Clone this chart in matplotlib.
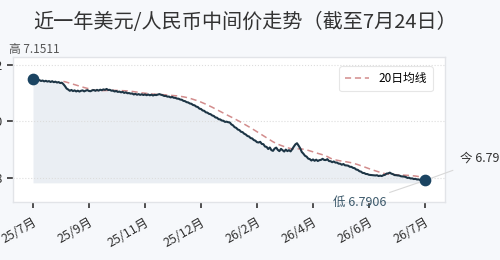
import matplotlib
matplotlib.use("Agg")
import matplotlib.pyplot as plt
import numpy as np
import pandas as pd

plt.rcParams['font.family'] = ['Noto Sans CJK SC', 'DejaVu Sans']

title = "近一年美元/人民币中间价走势（截至7月24日）"
tick_labels = ["25/7月", "25/9月", "25/11月", "25/12月", "26/2月", "26/4月", "26/6月", "26/7月"]
tick_index = [0, 35, 70, 105, 140, 175, 210, 245]
ma_label = "20日均线"
ma_window = 20

rates = [
    7.1511, 7.1470, 7.1462, 7.1440, 7.1465, 7.1432, 7.1450, 7.1418, 7.1440, 7.1412,
    7.1430, 7.1398, 7.1425, 7.1390, 7.1410, 7.1378, 7.1395, 7.1360, 7.1372, 7.1320,
    7.1250, 7.1165, 7.1130, 7.1085, 7.1115, 7.1075, 7.1100, 7.1062, 7.1090, 7.1058,
    7.1085, 7.1100, 7.1065, 7.1092, 7.1110, 7.1078, 7.1070, 7.1102, 7.1112, 7.1085,
    7.1118, 7.1090, 7.1125, 7.1105, 7.1135, 7.1118, 7.1150, 7.1112, 7.1120, 7.1088,
    7.1092, 7.1060, 7.1080, 7.1045, 7.1058, 7.1030, 7.1048, 7.1010, 7.1032, 7.0998,
    7.1005, 7.0985, 7.0990, 7.0955, 7.0978, 7.0945, 7.0968, 7.0940, 7.0962, 7.0935,
    7.0958, 7.0928, 7.0955, 7.0925, 7.0948, 7.0918, 7.0942, 7.0932, 7.0952, 7.0968,
    7.0945, 7.0930, 7.0902, 7.0905, 7.0878, 7.0880, 7.0850, 7.0868, 7.0838, 7.0835,
    7.0808, 7.0805, 7.0775, 7.0768, 7.0728, 7.0718, 7.0682, 7.0672, 7.0635, 7.0625,
    7.0582, 7.0570, 7.0525, 7.0510, 7.0452, 7.0440, 7.0388, 7.0375, 7.0322, 7.0310,
    7.0268, 7.0255, 7.0210, 7.0192, 7.0140, 7.0130, 7.0078, 7.0070, 7.0030, 7.0022,
    6.9982, 6.9990, 6.9970, 6.9962, 6.9892, 6.9860, 6.9795, 6.9770, 6.9712, 6.9692,
    6.9632, 6.9618, 6.9562, 6.9535, 6.9482, 6.9465, 6.9408, 6.9395, 6.9338, 6.9315,
    6.9262, 6.9252, 6.9275, 6.9200, 6.9192, 6.9108, 6.9095, 6.9020, 6.9075, 6.8980,
    6.8955, 6.9035, 6.9070, 6.8990, 6.8945, 6.9025, 6.8975, 6.8930, 6.9000, 6.8945,
    6.8980, 6.8935, 6.9015, 6.9105, 6.9185, 6.9225, 6.9140, 6.9045, 6.8915, 6.8855,
    6.8780, 6.8750, 6.8680, 6.8662, 6.8612, 6.8650, 6.8602, 6.8642, 6.8595, 6.8625,
    6.8635, 6.8672, 6.8632, 6.8628, 6.8660, 6.8592, 6.8588, 6.8552, 6.8578, 6.8538,
    6.8540, 6.8502, 6.8498, 6.8462, 6.8488, 6.8442, 6.8438, 6.8428, 6.8390, 6.8388,
    6.8352, 6.8340, 6.8292, 6.8280, 6.8232, 6.8218, 6.8172, 6.8168, 6.8135, 6.8132,
    6.8105, 6.8100, 6.8092, 6.8088, 6.8082, 6.8090, 6.8062, 6.8075, 6.8062, 6.8092,
    6.8105, 6.8148, 6.8155, 6.8182, 6.8145, 6.8128, 6.8095, 6.8092, 6.8082, 6.8078,
    6.8052, 6.8048, 6.8042, 6.8028, 6.7995, 6.8002, 6.7975, 6.7978, 6.7955, 6.7962,
    6.7940, 6.7942, 6.7920, 6.7925, 6.7908, 6.7906,
]
high_value = 7.1511
low_value = 6.7906
today_value = 6.7906
fill_base = 6.782

x = np.arange(len(rates))
y = np.array(rates)
ma = pd.Series(y).rolling(ma_window).mean()

bg = '#f6f8fb'
fig = plt.figure(figsize=(5, 2.6), dpi=100, facecolor=bg)
ax = fig.add_axes([0.026, 0.223, 0.864, 0.558])
ax.set_facecolor('white')

ax.fill_between(x, y, fill_base, color='#e8edf2', alpha=0.9, lw=0)
ax.plot(x, y, color='#1d3545', lw=1.5, zorder=3)
ax.plot(x, ma, color='#d28c8c', lw=1.1, ls=(0, (4, 2.5)), label=ma_label, zorder=2)
ax.scatter([x[0], x[-1]], [y[0], y[-1]], s=55, color='#1b4462', zorder=4)

ax.set_xlim(-12.5, 257.5)
ax.set_ylim(6.714, 7.2286)
ax.set_yticks([6.8, 7.0, 7.2])
ax.set_yticklabels(["6.8", "7.0", "7.2"])
ax.set_xticks(tick_index)
ax.set_xticklabels(tick_labels, rotation=30, ha='right', rotation_mode='anchor', fontsize=9, color='#333333')
ax.tick_params(axis='y', labelsize=9, colors='#333333', length=4, width=1.2)
ax.tick_params(axis='x', length=4, width=1.2, colors='#333333', pad=6)
ax.grid(axis='y', color='#dddddd', ls=':', lw=0.8)
for s in ax.spines.values():
    s.set_color('#e2e4e8')
    s.set_linewidth(1.0)

ax.annotate(f"高 {high_value:.4f}", xy=(x[0], y[0]), xytext=(-17, 21), textcoords='offset points',
            fontsize=8.5, color='#555555', ha='left', va='center', annotation_clip=False)
ax.annotate(f"低 {low_value:.4f}", xy=(x[-1], low_value), xytext=(-47, -16), textcoords='offset points',
            fontsize=9, color='#3d5a6c', ha='center', va='center', annotation_clip=False,
            arrowprops=dict(arrowstyle='-', color='#d8d8d8', lw=0.8, shrinkA=2, shrinkB=0))
ax.annotate(f"今 {today_value:.4f}", xy=(x[-1], today_value), xytext=(25, 16), textcoords='offset points',
            fontsize=9, color='#333333', ha='left', va='center', annotation_clip=False,
            arrowprops=dict(arrowstyle='-', color='#d8d8d8', lw=0.8, shrinkA=6, shrinkB=0))

leg = ax.legend(loc='upper right', fontsize=8.5, frameon=True, handlelength=2.0,
                borderpad=0.5, bbox_to_anchor=(0.985, 0.975))
leg.get_frame().set_edgecolor('#e0e0e0')
leg.get_frame().set_linewidth(0.8)

fig.text(0.49, 0.915, title, ha='center', va='center', fontsize=14.5, color='#333333')

fig.savefig('out.png', dpi=100, facecolor=bg)
